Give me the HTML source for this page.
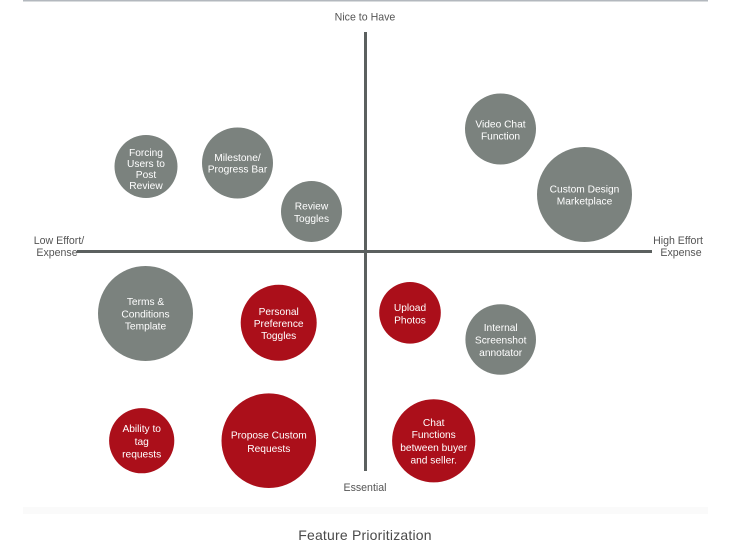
<!DOCTYPE html>
<html>
<head>
<meta charset="utf-8">
<style>
  html, body { margin: 0; padding: 0; background: #ffffff; }
  body { width: 750px; height: 560px; overflow: hidden; }
  svg { display: block; }
  .c { font-family: "Liberation Sans", Arial, sans-serif; font-size: 10.2px; fill: #ffffff; text-anchor: middle; }
  .lab { font-family: "Liberation Sans", Arial, sans-serif; font-size: 10.6px; fill: #555555; text-anchor: middle; }
  .title { font-family: "Liberation Sans", Arial, sans-serif; font-size: 14px; fill: #4a4a4a; text-anchor: middle; letter-spacing: 0.2px; }
</style>
</head>
<body>
<svg width="750" height="560" viewBox="0 0 750 560" xmlns="http://www.w3.org/2000/svg">
  <rect x="0" y="0" width="750" height="560" fill="#ffffff"/>
  <!-- top border line -->
  <rect x="23" y="0" width="685" height="1.5" fill="#b3b8be"/>
  <!-- faint bottom band -->
  <rect x="23" y="507" width="685" height="7" fill="#fafafa"/>

  <!-- axes -->
  <rect x="364" y="32" width="3" height="439" fill="#5b605f"/>
  <rect x="77" y="250" width="575" height="3" fill="#5b605f"/>

  <!-- axis labels -->
  <text class="lab" x="365" y="20.5">Nice to Have</text>
  <text class="lab" x="365" y="491">Essential</text>
  <text class="lab" x="59" y="244">Low Effort/</text>
  <text class="lab" x="57" y="256">Expense</text>
  <text class="lab" x="678" y="244">High Effort</text>
  <text class="lab" x="681" y="256">Expense</text>

  <!-- gray circles -->
  <g fill="#7b827e">
    <circle cx="146" cy="166.5" r="31.5"/>
    <circle cx="237.5" cy="163" r="35.5"/>
    <circle cx="311.5" cy="211.5" r="30.5"/>
    <circle cx="500.5" cy="129" r="35.5"/>
    <circle cx="584.5" cy="194.5" r="47.5"/>
    <circle cx="145.5" cy="313.5" r="47.5"/>
    <circle cx="500.7" cy="339.5" r="35.3"/>
  </g>
  <!-- red circles -->
  <g fill="#ab0f1a">
    <circle cx="278.7" cy="322.8" r="38"/>
    <circle cx="410" cy="312.8" r="30.8"/>
    <circle cx="141.7" cy="440.7" r="32.6"/>
    <circle cx="268.8" cy="440.7" r="47.3"/>
    <circle cx="433.7" cy="440.8" r="41.6"/>
  </g>

  <!-- circle labels -->
  <text class="c" x="146" y="156">Forcing</text>
  <text class="c" x="146" y="167">Users to</text>
  <text class="c" x="146" y="178">Post</text>
  <text class="c" x="146" y="189">Review</text>

  <text class="c" x="237.5" y="161">Milestone/</text>
  <text class="c" x="237.5" y="172.5">Progress Bar</text>

  <text class="c" x="311.5" y="209.5">Review</text>
  <text class="c" x="311.5" y="222">Toggles</text>

  <text class="c" x="500.5" y="127.5">Video Chat</text>
  <text class="c" x="500.5" y="139.5">Function</text>

  <text class="c" x="584.5" y="192.5">Custom Design</text>
  <text class="c" x="584.5" y="204.5">Marketplace</text>

  <text class="c" x="145.5" y="305">Terms &amp;</text>
  <text class="c" x="145.5" y="317.5">Conditions</text>
  <text class="c" x="145.5" y="329.5">Template</text>

  <text class="c" x="278.7" y="315">Personal</text>
  <text class="c" x="278.7" y="327">Preference</text>
  <text class="c" x="278.7" y="339">Toggles</text>

  <text class="c" x="410" y="311">Upload</text>
  <text class="c" x="410" y="323.5">Photos</text>

  <text class="c" x="500.7" y="331">Internal</text>
  <text class="c" x="500.7" y="343.5">Screenshot</text>
  <text class="c" x="500.7" y="356">annotator</text>

  <text class="c" x="141.7" y="432">Ability to</text>
  <text class="c" x="141.7" y="445">tag</text>
  <text class="c" x="141.7" y="457.5">requests</text>

  <text class="c" x="268.8" y="438.5">Propose Custom</text>
  <text class="c" x="268.8" y="452">Requests</text>

  <text class="c" x="433.7" y="426">Chat</text>
  <text class="c" x="433.7" y="438">Functions</text>
  <text class="c" x="433.7" y="451">between buyer</text>
  <text class="c" x="433.7" y="463.5">and seller.</text>

  <!-- title -->
  <text class="title" x="365" y="540">Feature Prioritization</text>
</svg>
</body>
</html>
